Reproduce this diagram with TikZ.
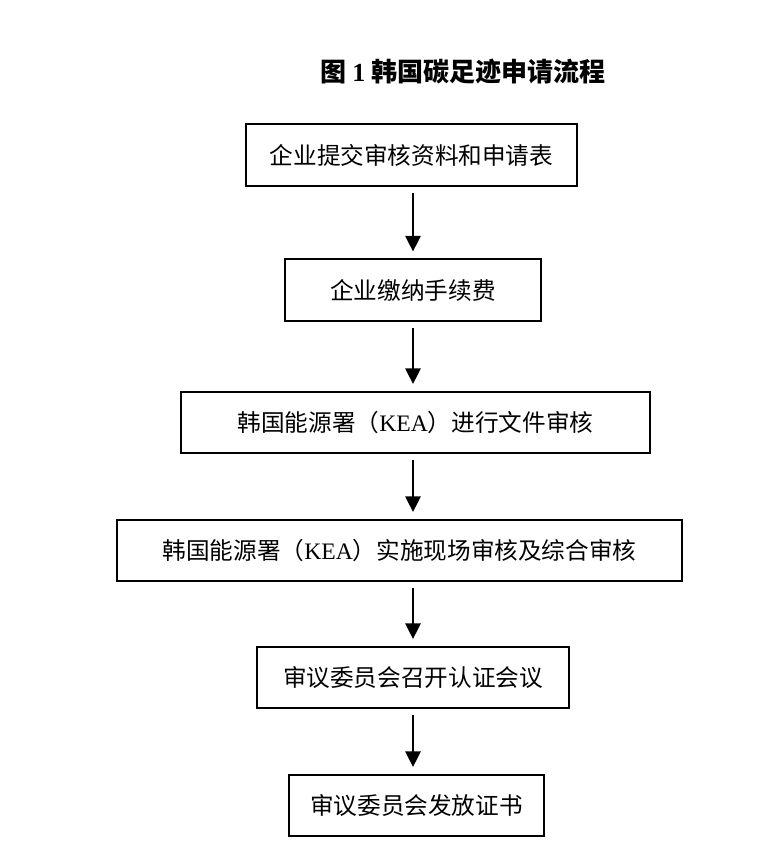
\documentclass[tikz,border=0pt]{standalone}
\usepackage{fontspec}
\usepackage{tikz}
\usetikzlibrary{arrows.meta, positioning}
\setmainfont{Liberation Serif}
\newfontfamily\cjk{Noto Sans CJK SC}
\newfontfamily\lat{Liberation Serif}
\tikzset{
  stepbox/.style={rectangle, draw=black, fill=white, line width=1.4pt,
    minimum height=1.53cm, inner sep=0pt, font=\cjk\fontsize{16.8}{18}\selectfont},
  arrow/.style={-{Triangle[length=11pt, width=11pt]}, line width=1pt,
    shorten <=5pt, shorten >=5pt}
}

\begin{document}
\begin{tikzpicture}[x=0.025cm, y=-0.025cm]
  \useasboundingbox (0,0) rectangle (759,850);

  % title
  \node[font=\cjk\bfseries\fontsize{18.5}{20}\selectfont] (title) at (463,72)
    {图 {\lat\bfseries 1} 韩国碳足迹申请流程};

  % steps
  \node[stepbox, minimum width=8.28cm] (apply) at (411.5,155) {企业提交审核资料和申请表};
  \node[stepbox, minimum width=6.4cm] (fee) at (413,290) {企业缴纳手续费};
  \node[stepbox, minimum width=11.73cm] (doc) at (415.5,422.5) {韩国能源署（{\lat KEA}）进行文件审核};
  \node[stepbox, minimum width=14.13cm] (site) at (399.5,550.5) {韩国能源署（{\lat KEA}）实施现场审核及综合审核};
  \node[stepbox, minimum width=7.8cm] (meet) at (413,677.5) {审议委员会召开认证会议};
  \node[stepbox, minimum width=6.38cm] (cert) at (416.5,805.5) {审议委员会发放证书};

  % flow
  \coordinate (a1) at (413,186);
  \draw[arrow] (a1) -- (a1 |- fee.north);
  \coordinate (a2) at (413,321);
  \draw[arrow] (a2) -- (a2 |- doc.north);
  \coordinate (a3) at (413,453);
  \draw[arrow] (a3) -- (a3 |- site.north);
  \coordinate (a4) at (413,581);
  \draw[arrow] (a4) -- (a4 |- meet.north);
  \coordinate (a5) at (413,708);
  \draw[arrow] (a5) -- (a5 |- cert.north);
\end{tikzpicture}
\end{document}
